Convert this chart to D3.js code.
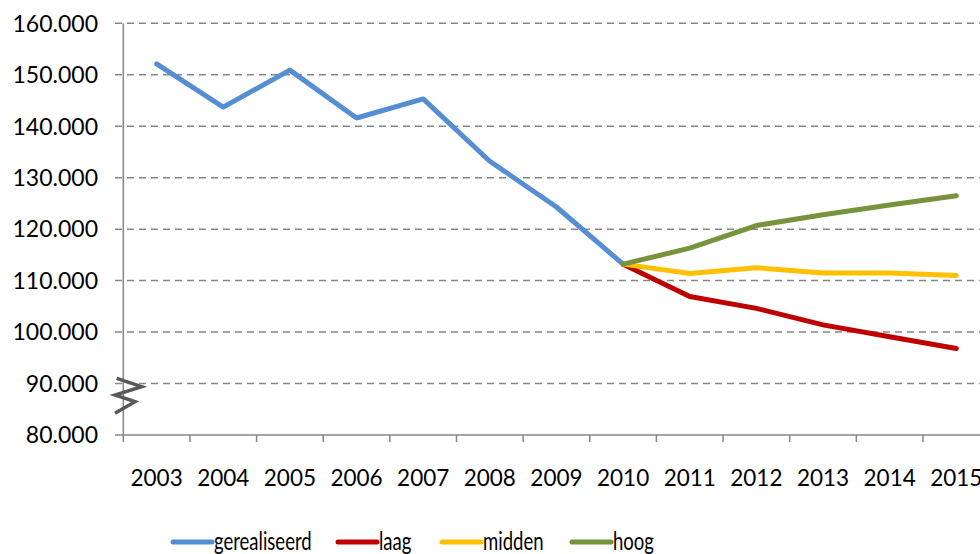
<!DOCTYPE html>
<html><head><meta charset="utf-8">
<script src="https://cdn.jsdelivr.net/npm/d3@7"></script>
<style>body{margin:0;background:#fff}svg{display:block}text{font-family:Lato,"Open Sans",sans-serif;fill:#000}</style>
</head><body><svg id="c" width="980" height="554"></svg>
<script>
const years = ["2003","2004","2005","2006","2007","2008","2009","2010","2011","2012","2013","2014","2015"];
const gerealiseerd = [152.1,143.7,150.9,141.6,145.3,133.2,124.3,113.2,null,null,null,null,null];
const laag   = [null,null,null,null,null,null,null,113.2,106.9,104.6,101.4,99.1,96.8];
const midden = [null,null,null,null,null,null,null,113.2,111.4,112.5,111.5,111.5,111.0];
const hoog   = [null,null,null,null,null,null,null,113.2,116.3,120.7,122.8,124.7,126.5];
const yTicks = [80,90,100,110,120,130,140,150,160];
const yTickLabels = ["80.000","90.000","100.000","110.000","120.000","130.000","140.000","150.000","160.000"];
const seriesNames = ["gerealiseerd","laag","midden","hoog"];
const seriesColors = ["#558ed5","#c00000","#ffc000","#77933c"];
const seriesData = [gerealiseerd,laag,midden,hoog];

const svg = d3.select("#c");
const x0 = 123.3, bw = 66.64;
const x = d3.scaleBand().domain(years).range([x0, x0 + bw*years.length]).paddingInner(0).paddingOuter(0);
const y = d3.scaleLinear().domain([80,160]).range([435,23.3]);

// grid
svg.append("g").selectAll("line").data(yTicks.filter(t=>t>80)).join("line")
  .attr("x1",115).attr("x2",980).attr("y1",d=>y(d)).attr("y2",d=>y(d))
  .attr("stroke","#868686").attr("stroke-width",1.5).attr("stroke-dasharray","7,5");

// y axis
const ya = svg.append("g");
ya.append("line").attr("x1",x0).attr("x2",x0).attr("y1",y(160)).attr("y2",y(80)).attr("stroke","#868686").attr("stroke-width",1.5);
ya.selectAll("text").data(yTicks).join("text")
  .attr("x",98).attr("y",d=>y(d)).attr("dy","0.36em").attr("text-anchor","end")
  .attr("font-size",23).text((d,i)=>yTickLabels[i]);

// x axis
const xa = svg.append("g");
xa.append("line").attr("x1",115).attr("x2",980).attr("y1",y(80)).attr("y2",y(80)).attr("stroke","#868686").attr("stroke-width",1.5);
xa.selectAll(".tk").data(years).join("line")
  .attr("x1",d=>x(d)).attr("x2",d=>x(d)).attr("y1",y(80)).attr("y2",y(80)+7)
  .attr("stroke","#868686").attr("stroke-width",1.5);
xa.selectAll("text").data(years).join("text")
  .attr("x",d=>x(d)+bw/2).attr("y",486).attr("text-anchor","middle").attr("font-size",22.5).text(d=>d);

// axis break
svg.append("path").attr("d","M116.7,378.3L141.7,386.7L115,395L135,401.7L115,413.3")
  .attr("fill","none").attr("stroke","#595959").attr("stroke-width",3.5).attr("stroke-linejoin","miter");

// lines
const line = d3.line().defined(d=>d.v!=null).x(d=>x(d.k)+bw/2).y(d=>y(d.v));
seriesData.forEach((s,i)=>{
  svg.append("path").datum(years.map((k,j)=>({k,v:s[j]})))
    .attr("d",line).attr("fill","none").attr("stroke",seriesColors[i])
    .attr("stroke-width",5).attr("stroke-linecap","round").attr("stroke-linejoin","round");
});

// legend
const legX = [173,338,442,572];
const lg = svg.append("g");
seriesNames.forEach((n,i)=>{
  lg.append("line").attr("x1",legX[i]).attr("x2",legX[i]+39).attr("y1",542).attr("y2",542)
    .attr("stroke",seriesColors[i]).attr("stroke-width",5).attr("stroke-linecap","round");
  const t = lg.append("text").attr("x",legX[i]+41).attr("y",550).attr("font-size",25).text(n);
  const w = t.node().getComputedTextLength();
  t.attr("textLength", w*0.74).attr("lengthAdjust","spacingAndGlyphs");
});
</script></body></html>
